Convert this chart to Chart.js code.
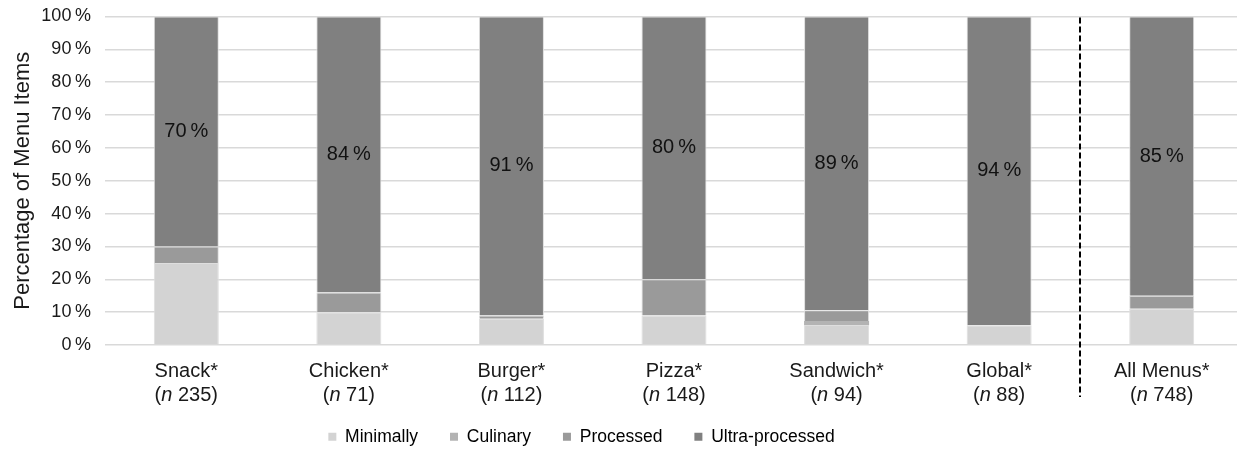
<!DOCTYPE html>
<html>
<head>
<meta charset="utf-8">
<script src="https://cdn.jsdelivr.net/npm/chart.js@4/dist/chart.umd.min.js"></script>
<style>
html,body{margin:0;padding:0;background:#fff;overflow:hidden;}
#wrap{width:1243px;height:449px;position:relative;}
</style>
</head>
<body>
<div id="wrap"><canvas id="c"></canvas></div>
<script>
const categories = ['Snack*', 'Chicken*', 'Burger*', 'Pizza*', 'Sandwich*', 'Global*', 'All Menus*'];
const sampleSizes = [235, 71, 112, 148, 94, 88, 748];
const minimally = [25, 10, 8, 9, 6.1, 6, 11];
const culinary = [0, 0, 0, 0, 1.2, 0, 0];
const processed = [5, 6, 1, 11, 3.3, 0, 4];
const ultraProcessed = [70, 84, 91, 80, 89.4, 94, 85];
const yTicks = [0, 10, 20, 30, 40, 50, 60, 70, 80, 90, 100];

const FONT = "'Liberation Sans', Arial, sans-serif";
const TEXT = '#1a1a1a';

const labelPlugin = {
  id: 'custom',
  beforeInit(chart) {
    const lg = chart.legend;
    if (lg) {
      const fit = lg.fit;
      lg.fit = function () { fit.call(this); this.height = 53; };
    }
  },
  afterLayout(chart) {
    const lg = chart.legend;
    if (lg) { lg.right = lg.right - 80; }
  },
  afterDatasetsDraw(chart) {
    const ctx = chart.ctx;
    const x = chart.scales.x;
    const area = chart.chartArea;
    // data labels on ultra-processed segment
    const meta = chart.getDatasetMeta(3);
    ctx.save();
    ctx.font = '20px ' + FONT;
    ctx.fillStyle = '#111';
    ctx.textAlign = 'center';
    ctx.textBaseline = 'middle';
    meta.data.forEach((bar, i) => {
      const cy = (bar.y + bar.base) / 2;
      ctx.fillText(Math.round(ultraProcessed[i]) + '\u2009%', bar.x, cy);
    });
    ctx.restore();

    // category labels with italic n
    ctx.save();
    ctx.fillStyle = TEXT;
    ctx.textBaseline = 'middle';
    const fs = 20;
    categories.forEach((c, i) => {
      const px = x.getPixelForValue(i);
      ctx.font = fs + 'px ' + FONT;
      ctx.textAlign = 'center';
      ctx.fillText(c, px, area.bottom + 26);
      const p1 = '(', it = 'n', p2 = ' ' + sampleSizes[i] + ')';
      const w1 = ctx.measureText(p1).width;
      const w3 = ctx.measureText(p2).width;
      ctx.font = 'italic ' + fs + 'px ' + FONT;
      const w2 = ctx.measureText(it).width;
      const sx = px - (w1 + w2 + w3) / 2;
      const ly = area.bottom + 50;
      ctx.textAlign = 'left';
      ctx.font = fs + 'px ' + FONT;
      ctx.fillText(p1, sx, ly);
      ctx.font = 'italic ' + fs + 'px ' + FONT;
      ctx.fillText(it, sx + w1, ly);
      ctx.font = fs + 'px ' + FONT;
      ctx.fillText(p2, sx + w1 + w2, ly);
    });
    ctx.restore();

    // dashed separator between Global and All Menus
    const sx = (x.getPixelForValue(5) + x.getPixelForValue(6)) / 2;
    ctx.save();
    ctx.strokeStyle = '#000';
    ctx.lineWidth = 2;
    ctx.setLineDash([6, 3]);
    ctx.beginPath();
    ctx.moveTo(Math.round(sx), area.top + 1);
    ctx.lineTo(Math.round(sx), area.bottom + 52);
    ctx.stroke();
    ctx.restore();
  }
};

const border = '#dedede';
new Chart(document.getElementById('c'), {
  type: 'bar',
  data: {
    labels: categories,
    datasets: [
      { label: 'Minimally', data: minimally, backgroundColor: '#d3d3d3', borderColor: border, borderWidth: 1 },
      { label: 'Culinary', data: culinary, backgroundColor: '#b3b3b3', borderColor: border, borderWidth: 0 },
      { label: 'Processed', data: processed, backgroundColor: '#9a9a9a', borderColor: border, borderWidth: 1 },
      { label: 'Ultra-processed', data: ultraProcessed, backgroundColor: '#808080', borderColor: border, borderWidth: 1 }
    ]
  },
  options: {
    responsive: true,
    maintainAspectRatio: false,
    animation: false,
    barPercentage: 0.4,
    categoryPercentage: 1.0,
    layout: { padding: { top: 0, right: 0, left: 0, bottom: 0 } },
    plugins: {
      legend: {
        position: 'bottom',
        labels: {
          boxWidth: 8, boxHeight: 8, padding: 32,
          color: TEXT,
          font: { family: FONT, size: 17.5 },
          generateLabels(chart) {
            return chart.data.datasets.map((d, i) => ({
              text: d.label, fillStyle: d.backgroundColor, strokeStyle: d.backgroundColor,
              lineWidth: 0, datasetIndex: i, hidden: false
            }));
          }
        }
      },
      tooltip: { enabled: false }
    },
    scales: {
      x: {
        stacked: true,
        grid: { display: false },
        border: { display: false },
        afterFit(scale) { scale.height = 51; },
        ticks: {
          color: 'rgba(0,0,0,0)',
          font: { family: FONT, size: 14 },
          callback: (v, i) => categories[i]
        }
      },
      y: {
        stacked: true,
        min: 0, max: 100,
        afterFit(scale) { scale.width = 105; scale.paddingTop = 16.5; },
        afterBuildTicks(scale) { scale.ticks = yTicks.map(v => ({ value: v })); },
        grid: { color: '#d9d9d9', lineWidth: 1.5, drawTicks: false },
        border: { display: false },
        ticks: {
          padding: 14,
          color: TEXT,
          font: { family: FONT, size: 18 },
          callback: v => v + '\u2009%'
        },
        title: {
          display: true,
          text: 'Percentage of Menu Items',
          color: TEXT,
          font: { family: FONT, size: 22 },
          padding: { top: 10, bottom: 0 }
        }
      }
    }
  },
  plugins: [labelPlugin]
});
</script>
</body>
</html>
